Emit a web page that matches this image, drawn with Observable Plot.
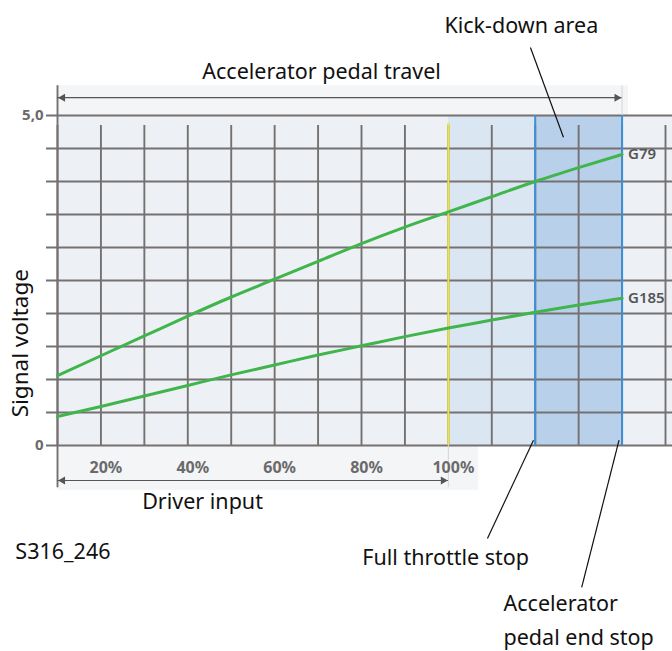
<!DOCTYPE html>
<html>
<head>
<meta charset="utf-8">
<script src="https://cdn.jsdelivr.net/npm/d3@7"></script>
<script src="https://cdn.jsdelivr.net/npm/@observablehq/plot@0.6"></script>
<style>
  html, body { margin: 0; padding: 0; background: #ffffff; }
  #chart svg { display: block; }
</style>
</head>
<body>
<div id="chart"></div>
<script>
// Pedal travel positions (%), one per grid column
const pedalTravel = [10, 20, 30, 40, 50, 60, 70, 80, 90, 100, 110, 120, 130, 140];
// Signal voltages
const g79  = [1.06, 1.36, 1.66, 1.96, 2.25, 2.52, 2.79, 3.06, 3.31, 3.54, 3.77, 4.00, 4.21, 4.41];
const g185 = [0.44, 0.59, 0.75, 0.91, 1.07, 1.22, 1.37, 1.51, 1.65, 1.78, 1.90, 2.02, 2.13, 2.23];
const seriesNames = ["G79", "G185"];

// Axis / grid values
const xGrid = [10, 20, 30, 40, 50, 60, 70, 80, 90, 100, 110, 120, 130, 140, 150];
const yGrid = [0, 0.5, 1, 1.5, 2, 2.5, 3, 3.5, 4, 4.5, 5];
const xTickValues = [20, 40, 60, 80, 100];
const xTickLabels = ["20%", "40%", "60%", "80%", "100%"];
const yTickValues = [0, 5];
const yTickLabels = ["0", "5,0"];

// Zones
const fullThrottle = 100;   // full throttle stop
const kickStart = 120;      // kick-down start
const endStop = 140;        // pedal end stop
const xMin = 10, xMax = 150;

// Annotation texts (positions in data units)
const centeredTexts = [
  {text: "Kick-down area", x: 116.8, y: 6.36},
  {text: "Accelerator pedal travel", x: 70.8, y: 5.65},
  {text: "Driver input", x: 43.4, y: -0.86}
];
const leftTexts = [
  {text: "S316_246", x: 0.3, y: -1.61},
  {text: "Full throttle stop", x: 80.2, y: -1.70},
  {text: "Accelerator", x: 112.7, y: -2.41},
  {text: "pedal end stop", x: 112.7, y: -2.92}
];
const leaders = [
  {x1: 118.9, y1: 6.03, x2: 126.5, y2: 4.67},
  {x1: 119.6, y1: 0.08, x2: 109.0, y2: -1.41},
  {x1: 139.3, y1: 0.08, x2: 130.7, y2: -2.15}
];
const travelArrowY = 5.27;
const driverArrowY = -0.53;

const lines = [];
pedalTravel.forEach((p, i) => {
  lines.push({series: "G79", x: p, v: g79[i]});
  lines.push({series: "G185", x: p, v: g185[i]});
});
const last = pedalTravel.length - 1;
const ends = [
  {series: seriesNames[0], x: pedalTravel[last], v: g79[last]},
  {series: seriesNames[1], x: pedalTravel[last], v: g185[last]}
];

const FONT = "'Noto Sans', 'Open Sans', sans-serif";
const gridColor = "#767171";
const arrowColor = "#555555";
const labelSize = 21.5;

const chart = Plot.plot({
  width: 672,
  height: 651,
  marginTop: 115,
  marginBottom: 206,
  marginLeft: 57,
  marginRight: 7,
  x: {domain: [xMin, xMax], axis: null},
  y: {domain: [0, 5], axis: null},
  style: {background: "#ffffff", fontFamily: FONT, overflow: "visible"},
  marks: [
    // faint bands behind the arrows
    Plot.rectY([0], {x1: xMin, x2: 141.5, y1: 5, y2: 5.45, fill: "#f4f5f7"}),
    Plot.rectY([0], {x1: xMin, x2: 107, y1: 0, y2: -0.68, fill: "#f4f5f7"}),
    // plot background and zones
    Plot.rectY([0], {x1: xMin, x2: xMax, y1: 0, y2: 5, fill: "#edf1f5", insetRight: -7}),
    Plot.rectY([0], {x1: fullThrottle, x2: kickStart, y1: 0, y2: 5, fill: "#dbe6f3"}),
    Plot.rectY([0], {x1: kickStart, x2: endStop, y1: 0, y2: 5, fill: "#b9d0ea"}),
    // grid
    Plot.ruleY(yGrid, {y: d => d, x1: xMin, x2: xMax, insetLeft: -11, insetRight: -7, stroke: gridColor, strokeWidth: 1.9}),
    Plot.ruleX(xGrid, {x: d => d, y1: 0, y2: 5, insetBottom: -10, stroke: gridColor, strokeWidth: 1.9}),
    // left border extended
    Plot.ruleX([xMin], {x: d => d, y1: -0.64, y2: 5.45, stroke: gridColor, strokeWidth: 1.9}),
    Plot.ruleX([fullThrottle], {x: d => d, y1: -0.64, y2: 0, stroke: "#d5d5d5", strokeWidth: 1}),
    Plot.ruleX([endStop], {x: d => d, y1: 5, y2: 5.45, stroke: "#d5d5d5", strokeWidth: 1}),
    // special lines
    Plot.ruleX([fullThrottle], {x: d => d, y1: 0, y2: 5, insetBottom: -8, stroke: "#f2e23c", strokeWidth: 2}),
    Plot.ruleX([kickStart, endStop], {x: d => d, y1: 0, y2: 5, stroke: "#3d8fd8", strokeWidth: 2}),
    // signal curves
    Plot.line(lines, {x: "x", y: "v", z: "series", stroke: "#3fb54b", strokeWidth: 3, curve: "monotone-x"}),
    Plot.text(ends, {x: "x", y: "v", text: "series", dx: 6, textAnchor: "start", fill: "#555", fontSize: 15, fontWeight: 600}),
    // tick labels
    Plot.text(xTickValues, {x: d => d, y: 0, text: (d, i) => xTickLabels[i], dx: 5, dy: 22, fill: "#6a6a6a", fontSize: 16, fontWeight: "bold"}),
    Plot.text(yTickValues, {x: xMin, y: d => d, text: (d, i) => yTickLabels[i], dx: -14, textAnchor: "end", fill: "#6a6a6a", fontSize: 15, fontWeight: "bold"}),
    // arrows
    Plot.ruleY([travelArrowY], {y: d => d, x1: xMin, x2: endStop, stroke: arrowColor, strokeWidth: 1.2}),
    Plot.ruleY([driverArrowY], {y: d => d, x1: xMin, x2: fullThrottle, stroke: arrowColor, strokeWidth: 1.2}),
    Plot.dot([{x: xMin + 1.2, y: travelArrowY, r: -90}, {x: endStop - 1.2, y: travelArrowY, r: 90},
              {x: xMin + 1.2, y: driverArrowY, r: -90}, {x: fullThrottle - 1.2, y: driverArrowY, r: 90}],
             {x: "x", y: "y", rotate: "r", symbol: "triangle", r: 3, fill: arrowColor, stroke: "none"}),
    // leader lines
    Plot.link(leaders, {x1: "x1", y1: "y1", x2: "x2", y2: "y2", stroke: "#111", strokeWidth: 1.2}),
    // annotation texts
    Plot.text(centeredTexts, {x: "x", y: "y", text: "text", textAnchor: "middle", fill: "#111", fontSize: labelSize}),
    Plot.text(leftTexts, {x: "x", y: "y", text: "text", textAnchor: "start", fill: "#111", fontSize: labelSize}),
    Plot.text(["Signal voltage"], {x: 1.5, y: 1.55, text: d => d, rotate: -90, fill: "#111", fontSize: 22.5})
  ]
});
document.getElementById("chart").appendChild(chart);
</script>
</body>
</html>
